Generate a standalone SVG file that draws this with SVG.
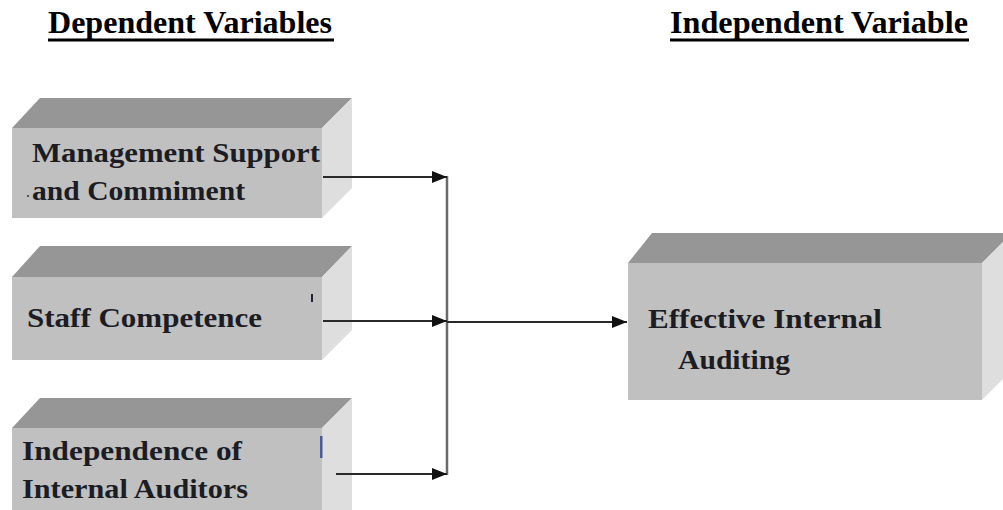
<svg xmlns="http://www.w3.org/2000/svg" width="1003" height="510" viewBox="0 0 1003 510">
<style>
.front{fill:#c0c0c0}
.top{fill:#969696}
.side{fill:#dedede}
.lbl{font-family:"Liberation Serif","Times New Roman",serif;font-weight:bold;font-size:28px;fill:#1c1c24}
.hdr{font-family:"Liberation Serif","Times New Roman",serif;font-weight:bold;font-size:32px;fill:#000}
.ln{stroke:#2a2a2a;stroke-width:2;fill:none}
.vl{stroke:#6a6a6a;stroke-width:2.5;fill:none}
</style>
<defs>
<marker id="ah" markerWidth="15" markerHeight="12" refX="15" refY="6" orient="auto" markerUnits="userSpaceOnUse">
<path d="M0,0 L15,6 L0,12 Z" fill="#111"/>
</marker>
</defs>
<rect width="1003" height="510" fill="#fff"/>
<g id="headers">
<text class="hdr" x="48" y="33" textLength="284" lengthAdjust="spacingAndGlyphs">Dependent Variables</text>
<rect x="48" y="38.5" width="286" height="3" fill="#000"/>
<text class="hdr" x="670" y="33" textLength="298" lengthAdjust="spacingAndGlyphs">Independent Variable</text>
<rect x="670" y="38.5" width="299" height="3" fill="#000"/>
</g>
<g id="node-management">
<polygon class="top" points="12,128 40,98 352,98 322,128"/>
<polygon class="side" points="322,128 352,98 352,188 322,218"/>
<rect class="front" x="12" y="128" width="310" height="90"/>
<rect x="27" y="195" width="2" height="2" fill="#555"/>
<text class="lbl" x="32" y="162" textLength="288" lengthAdjust="spacingAndGlyphs">Management Support</text>
<text class="lbl" x="32" y="200" textLength="213" lengthAdjust="spacingAndGlyphs">and Commiment</text>
</g>
<g id="node-staff">
<polygon class="top" points="12,277 40,246 352,246 322,277"/>
<polygon class="side" points="322,277 352,246 352,330 322,360"/>
<rect class="front" x="12" y="277" width="310" height="83"/>
<rect x="311" y="294" width="2" height="8" fill="#223"/>
<text class="lbl" x="27" y="327" textLength="235" lengthAdjust="spacingAndGlyphs">Staff Competence</text>
</g>
<g id="node-independence">
<polygon class="top" points="12,428 40,398 352,398 322,428"/>
<polygon class="side" points="322,428 352,398 352,510 322,510"/>
<rect class="front" x="12" y="428" width="310" height="82"/>
<rect x="320" y="436" width="2.5" height="22" fill="#4a5a9a"/>
<text class="lbl" x="22" y="460" textLength="220" lengthAdjust="spacingAndGlyphs">Independence of</text>
<text class="lbl" x="22" y="498" textLength="226" lengthAdjust="spacingAndGlyphs">Internal Auditors</text>
</g>
<g id="node-effective">
<polygon class="top" points="628,263 652,233 1012,233 982,263"/>
<polygon class="side" points="982,263 1012,233 1012,370 982,400"/>
<rect class="front" x="628" y="263" width="354" height="137"/>
<text class="lbl" x="648" y="328" textLength="234" lengthAdjust="spacingAndGlyphs">Effective Internal</text>
<text class="lbl" x="678" y="369" textLength="112" lengthAdjust="spacingAndGlyphs">Auditing</text>
</g>
<g id="connectors">
<line class="vl" x1="447" y1="176" x2="447" y2="475"/>
<line class="ln" x1="323" y1="177" x2="447" y2="177" marker-end="url(#ah)"/>
<line class="ln" x1="323" y1="321" x2="447" y2="321" marker-end="url(#ah)"/>
<line class="ln" x1="336" y1="474" x2="447" y2="474" marker-end="url(#ah)"/>
<line class="ln" x1="447" y1="322" x2="627" y2="322" marker-end="url(#ah)"/>
</g>
</svg>
